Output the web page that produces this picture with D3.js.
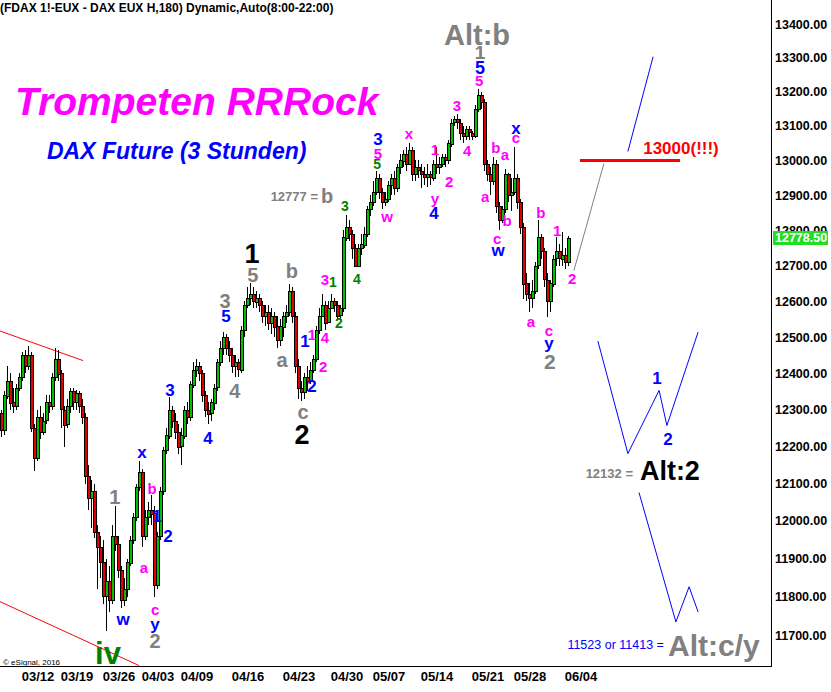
<!DOCTYPE html>
<html>
<head>
<meta charset="utf-8">
<script src="https://cdn.jsdelivr.net/npm/d3@7"></script>
<style>
body { margin: 0; background: #fff; }
svg { display: block; font-family: "Liberation Sans", Arial, sans-serif; }
</style>
</head>
<body>
<div id="chart"></div>
<script>
// FDAX 180 min bars (open = previous close)
var firstOpen = 12290;
var closes = [
  12245,12340,12380,12320,12310,12360,12390,12450,12420,12450,
  12250,12170,12280,12240,12270,12320,12310,12390,12440,12400,
  12300,12260,12310,12350,12320,12345,12310,12280,12120,12060,
  12080,11970,11930,11890,11800,11840,11790,11960,11940,11870,
  11790,11820,11890,11950,12010,12090,12130,11960,12010,12030,
  12020,11830,11960,12080,12190,12230,12300,12270,12240,12200,
  12230,12300,12280,12370,12410,12420,12400,12340,12300,12290,
  12320,12360,12430,12470,12500,12470,12450,12420,12430,12410,
  12520,12590,12610,12620,12600,12610,12590,12560,12570,12540,
  12560,12530,12490,12530,12560,12570,12630,12560,12420,12360,
  12350,12390,12380,12410,12440,12520,12560,12590,12540,12580,
  12600,12590,12560,12580,12780,12810,12790,12750,12700,12750,
  12760,12790,12860,12880,12910,12950,12910,12880,12890,12930,
  12950,12920,12980,13000,13020,12990,13030,12960,12980,12970,
  12960,12950,12960,12950,12990,12980,12990,13010,13000,13050,
  13110,13120,13110,13080,13070,13090,13080,13070,13150,13190,
  13170,12990,12960,12940,12990,12870,12830,12860,12960,12900,
  12910,12950,12880,12810,12650,12620,12610,12630,12700,12780,
  12740,12660,12600,12650,12720,12740,12720,12730,12710,12778.5
];
var highs = [
  12300,12350,12420,12400,12360,12370,12400,12460,12465,12475,
  12460,12260,12300,12310,12290,12340,12340,12400,12470,12465,
  12410,12310,12330,12360,12360,12355,12350,12330,12290,12150,
  12110,12100,11990,11960,11950,11900,11880,11990,12040,11960,
  11880,11850,11900,11960,12020,12100,12160,12140,12030,12050,
  12070,12040,11970,12090,12200,12250,12335,12310,12290,12260,
  12250,12310,12320,12380,12430,12440,12430,12410,12350,12320,
  12330,12370,12440,12490,12515,12510,12490,12470,12450,12440,
  12530,12600,12640,12650,12640,12630,12620,12600,12590,12590,
  12580,12570,12560,12550,12570,12590,12647,12640,12570,12440,
  12380,12400,12420,12430,12450,12530,12580,12620,12600,12600,
  12620,12610,12600,12590,12800,12845,12830,12800,12760,12760,
  12790,12810,12870,12900,12940,12970,12960,12920,12910,12940,
  12960,12970,12990,13020,13030,13040,13052,13040,13000,13000,
  12990,12980,12990,12970,13000,13040,13010,13020,13020,13060,
  13120,13130,13135,13120,13100,13100,13100,13085,13160,13208,
  13200,13180,13000,12980,13010,13000,12880,12870,12975,12965,
  12950,13038,12960,12890,12820,12680,12650,12660,12710,12830,
  12790,12750,12680,12660,12730,12780,12760,12795,12750,12785
];
var lows = [
  12225,12230,12330,12300,12290,12300,12350,12380,12400,12410,
  12240,12135,12160,12220,12230,12260,12290,12300,12380,12380,
  12250,12200,12250,12290,12300,12300,12290,12260,12100,12030,
  11980,11955,11820,11850,11780,11710,11760,11780,11920,11850,
  11770,11775,11800,11880,11940,12000,12080,11930,11950,11990,
  11990,11800,11820,11950,12070,12180,12220,12250,12220,12180,
  12150,12220,12260,12270,12360,12390,12380,12320,12280,12260,
  12270,12300,12350,12420,12450,12450,12430,12400,12390,12390,
  12400,12500,12580,12590,12580,12580,12570,12540,12530,12520,
  12510,12500,12470,12475,12500,12540,12560,12540,12400,12330,
  12325,12330,12350,12370,12400,12430,12510,12560,12520,12540,
  12580,12570,12550,12550,12570,12770,12770,12720,12695,12700,
  12730,12750,12780,12840,12870,12900,12890,12860,12870,12880,
  12900,12900,12910,12960,12980,12970,12990,12940,12940,12950,
  12920,12930,12925,12930,12940,12960,12960,12980,12980,12990,
  13040,13100,13090,13060,13050,13060,13060,13060,13065,13140,
  13150,12970,12940,12900,12930,12850,12800,12820,12850,12880,
  12855,12900,12860,12790,12605,12600,12570,12580,12620,12690,
  12720,12640,12555,12570,12640,12700,12700,12700,12690,12700
];
var lastPrice = 12778.5;

// x axis: bar index of the first bar of each week
var dateTickIdx = [12, 25, 39, 52, 65, 82, 99, 115, 129, 145, 162, 176, 193];
var dateTickLabels = ['03/12','03/19','03/26','04/03','04/09','04/16','04/23',
                      '04/30','05/07','05/14','05/21','05/28','06/04'];
var priceTicks = [11700,11800,11900,12000,12100,12200,12300,12400,12500,
                  12600,12700,12800,12900,13000,13100,13200,13300,13400];

// drawn lines, [bar index, price]
var channelTop = [[-0.5, 12517], [27.2, 12435]];
var channelBottom = [[-0.5, 11787], [45.8, 11621]];
var greyPath = [[190.8, 12686], [200.8, 12991]];
var target13000 = [[192.8, 13000], [226.2, 13000]];
var bluePathUp = [[208.8, 13026], [217.2, 13303]];
var bluePathMid = [[198.8, 12489], [208.8, 12181], [219.2, 12353], [221.8, 12257], [232.2, 12514]];
var bluePathLow = [[212.5, 12076], [224.8, 11734], [229.2, 11826], [232.2, 11760]];

var MAG = '#ff00ff', BLU = '#0000ff', GRY = '#808080', GRN = '#008000', BLK = '#000000', RED = '#ff0000';

// wave labels: text, bar index, price, colour, size, anchor, weight
var waveLabels = [
  ['Alt:b', 158.5, 13369, GRY, 29], ['1', 159.5, 13316, GRY, 19],
  ['5', 159.5, 13270, BLU, 18], ['5', 159.2, 13232, MAG, 15],
  ['3', 151.8, 13159, MAG, 15], ['4', 155.2, 13029, MAG, 15],
  ['1', 144.5, 13032, MAG, 15], ['2', 149.2, 12940, MAG, 15],
  ['y', 144.5, 12891, MAG, 15], ['4', 144.2, 12849, BLU, 17],
  ['x', 135.8, 13076, MAG, 15], ['3', 125.5, 13061, BLU, 17],
  ['5', 125.5, 13020, MAG, 15], ['5', 125.2, 12991, GRN, 14],
  ['w', 128.5, 12840, MAG, 15], ['3', 114.5, 12869, GRN, 14],
  ['b', 164.8, 13038, MAG, 15], ['a', 167.8, 13017, MAG, 15],
  ['x', 171.5, 13094, BLU, 17], ['c', 171.5, 13065, MAG, 15],
  ['a', 161.2, 12897, MAG, 15], ['b', 168.5, 12826, MAG, 15],
  ['c', 165.2, 12777, MAG, 15], ['w', 165.5, 12743, BLU, 17],
  ['b', 179.8, 12851, MAG, 15], ['1', 185.2, 12800, MAG, 15],
  ['2', 190.2, 12663, MAG, 15], ['a', 176.5, 12544, MAG, 15],
  ['c', 182.5, 12517, MAG, 15], ['y', 182.5, 12484, BLU, 17],
  ['2', 182.8, 12432, GRY, 21],
  ['1', 83.5, 12733, BLK, 27], ['5', 83.8, 12674, GRY, 20],
  ['b', 96.8, 12686, GRY, 20], ['3', 74.5, 12600, GRY, 20],
  ['5', 74.8, 12558, BLU, 17], ['4', 77.8, 12350, GRY, 20],
  ['a', 93.5, 12436, GRY, 20], ['c', 100.5, 12295, GRY, 20],
  ['2', 100.2, 12232, BLK, 27],
  ['3', 107.8, 12660, MAG, 15], ['1', 110.5, 12655, GRN, 14],
  ['4', 118.5, 12663, GRN, 14], ['2', 112.5, 12539, GRN, 14],
  ['4', 107.8, 12497, MAG, 15], ['1', 101.2, 12489, BLU, 17],
  ['1', 103.5, 12506, MAG, 15], ['2', 107.2, 12419, MAG, 15],
  ['2', 103.5, 12364, BLU, 17],
  ['x', 46.8, 12184, BLU, 17], ['3', 56.2, 12353, BLU, 17],
  ['4', 68.8, 12224, BLU, 17], ['1', 37.8, 12065, GRY, 20],
  ['b', 50.2, 12087, MAG, 15], ['1', 51.8, 12013, BLU, 17],
  ['2', 55.5, 11961, BLU, 17], ['a', 47.5, 11877, MAG, 15],
  ['w', 40.5, 11742, BLU, 17], ['c', 51.2, 11765, MAG, 15],
  ['y', 51.2, 11729, BLU, 17], ['2', 51.2, 11685, GRY, 20],
  ['iv', 35.5, 11654, GRN, 31],
  ['1', 218.5, 12386, BLU, 17], ['2', 222.2, 12219, BLU, 17],
  ['12777 =', 105.5, 12897, GRY, 13, 'end'], ['b', 108.5, 12897, GRY, 20],
  ['13000(!!!)', 226.5, 13036, RED, 17],
  ['12132 =', 210.5, 12127, GRY, 13, 'end'], ['Alt:2', 212.8, 12135, BLK, 27, 'start'],
  ['11523 or 11413 =', 220.8, 11674, BLU, 12.5, 'end', 'normal'],
  ['Alt:c/y', 222.2, 11672, GRY, 30, 'start']
];

var svgW = 831, svgH = 692;
var plotR = 771, plotB = 666;

var svg = d3.select('#chart').append('svg')
    .attr('width', svgW)
    .attr('height', svgH);

var xScale = d3.scaleLinear().domain([-0.5, 256.5]).range([0, plotR]);
var yScale = d3.scaleLog().domain([11700, 13400]).range([635, 24]);

svg.append('clipPath').attr('id', 'plotclip')
  .append('rect').attr('x', 0).attr('y', 0).attr('width', plotR).attr('height', plotB);

var plot = svg.append('g').attr('clip-path', 'url(#plotclip)');

// build bars
var bars = closes.map(function(c, i) {
    var o = i === 0 ? firstOpen : closes[i - 1];
    return {i: i, o: o, c: c,
            h: Math.max(highs[i], o, c),
            l: Math.min(lows[i], o, c)};
});

// channel lines
var line = d3.line().x(d => xScale(d[0])).y(d => yScale(d[1]));
[channelTop, channelBottom].forEach(function(pts) {
    plot.append('path').attr('d', line(pts))
        .attr('fill', 'none').attr('stroke', RED).attr('stroke-width', 1);
});

// wicks
plot.selectAll('.wick').data(bars).enter().append('line')
    .attr('class', 'wick')
    .attr('x1', d => xScale(d.i)).attr('x2', d => xScale(d.i))
    .attr('y1', d => yScale(d.h)).attr('y2', d => yScale(d.l))
    .attr('stroke', '#000').attr('stroke-width', 1)
    .attr('shape-rendering', 'crispEdges');

// bodies
plot.selectAll('.body').data(bars).enter().append('rect')
    .attr('class', 'body')
    .attr('x', d => Math.round(xScale(d.i) - 1.5))
    .attr('width', 3)
    .attr('y', d => Math.round(yScale(Math.max(d.o, d.c))))
    .attr('height', d => Math.max(1, Math.round(Math.abs(yScale(d.o) - yScale(d.c)))))
    .attr('fill', d => d.c >= d.o ? '#00c000' : '#e00000')
    .attr('stroke', '#000').attr('stroke-width', 1)
    .attr('shape-rendering', 'crispEdges');

// projection lines
plot.append('path').attr('d', line(greyPath))
    .attr('fill', 'none').attr('stroke', GRY).attr('stroke-width', 1);
plot.append('path').attr('d', line(target13000))
    .attr('fill', 'none').attr('stroke', RED).attr('stroke-width', 3);
[bluePathUp, bluePathMid, bluePathLow].forEach(function(pts) {
    plot.append('path').attr('d', line(pts))
        .attr('fill', 'none').attr('stroke', BLU).attr('stroke-width', 1);
});

// frame
svg.append('line').attr('x1', plotR + 0.5).attr('x2', plotR + 0.5)
    .attr('y1', 0).attr('y2', plotB + 1).attr('stroke', '#000');
svg.append('line').attr('x1', 0).attr('x2', plotR + 1)
    .attr('y1', plotB + 0.5).attr('y2', plotB + 0.5).attr('stroke', '#000');

// price axis
var yAxis = svg.append('g')
    .attr('transform', `translate(${plotR}, 0)`)
    .call(d3.axisRight(yScale).tickValues(priceTicks)
        .tickFormat(d3.format('.2f')).tickSize(0).tickPadding(4));
yAxis.select('.domain').remove();
yAxis.selectAll('text')
    .attr('font-family', '"Liberation Sans", Arial, sans-serif')
    .attr('font-size', '12.5px').attr('font-weight', 'bold').attr('fill', '#000');

// last price box
var lpY = yScale(lastPrice);
svg.append('rect').attr('x', 773).attr('y', Math.round(lpY) - 7)
    .attr('width', 55).attr('height', 14).attr('fill', '#22dd22');
svg.append('text').attr('x', 775).attr('y', lpY).attr('dy', '0.35em')
    .attr('font-size', '12.5px').attr('font-weight', 'bold').attr('fill', '#fff')
    .text(d3.format('.2f')(lastPrice));

// date axis
var xAxis = svg.append('g')
    .attr('transform', `translate(0, ${plotB})`)
    .call(d3.axisBottom(xScale).tickValues(dateTickIdx)
        .tickFormat((d, i) => dateTickLabels[i]).tickSize(0).tickPadding(6));
xAxis.select('.domain').remove();
xAxis.selectAll('text')
    .attr('font-family', '"Liberation Sans", Arial, sans-serif')
    .attr('font-size', '13px').attr('font-weight', 'bold').attr('fill', '#000');

// wave labels
svg.append('g').selectAll('text').data(waveLabels).enter().append('text')
    .attr('x', d => xScale(d[1]))
    .attr('y', d => yScale(d[2]))
    .attr('dy', '0.35em')
    .attr('text-anchor', d => d[5] || 'middle')
    .attr('font-weight', d => d[6] || 'bold')
    .attr('font-size', d => d[4] + 'px')
    .attr('fill', d => d[3])
    .text(d => d[0]);

// titles
svg.append('text').attr('x', 0).attr('y', 12)
    .attr('font-size', '12px').attr('font-weight', 'bold')
    .text('(FDAX 1!-EUX - DAX EUX H,180) Dynamic,Auto(8:00-22:00)');
svg.append('text').attr('x', 15).attr('y', 115)
    .attr('font-size', '39px').attr('font-weight', 'bold').attr('font-style', 'italic')
    .attr('fill', MAG).text('Trompeten RRRock');
svg.append('text').attr('x', 47).attr('y', 159)
    .attr('font-size', '23px').attr('font-weight', 'bold').attr('font-style', 'italic')
    .attr('fill', BLU).text('DAX Future (3 Stunden)');
svg.append('text').attr('x', 3).attr('y', 665)
    .attr('font-size', '8px').attr('fill', '#000').text('© eSignal, 2016');
</script>
</body>
</html>
